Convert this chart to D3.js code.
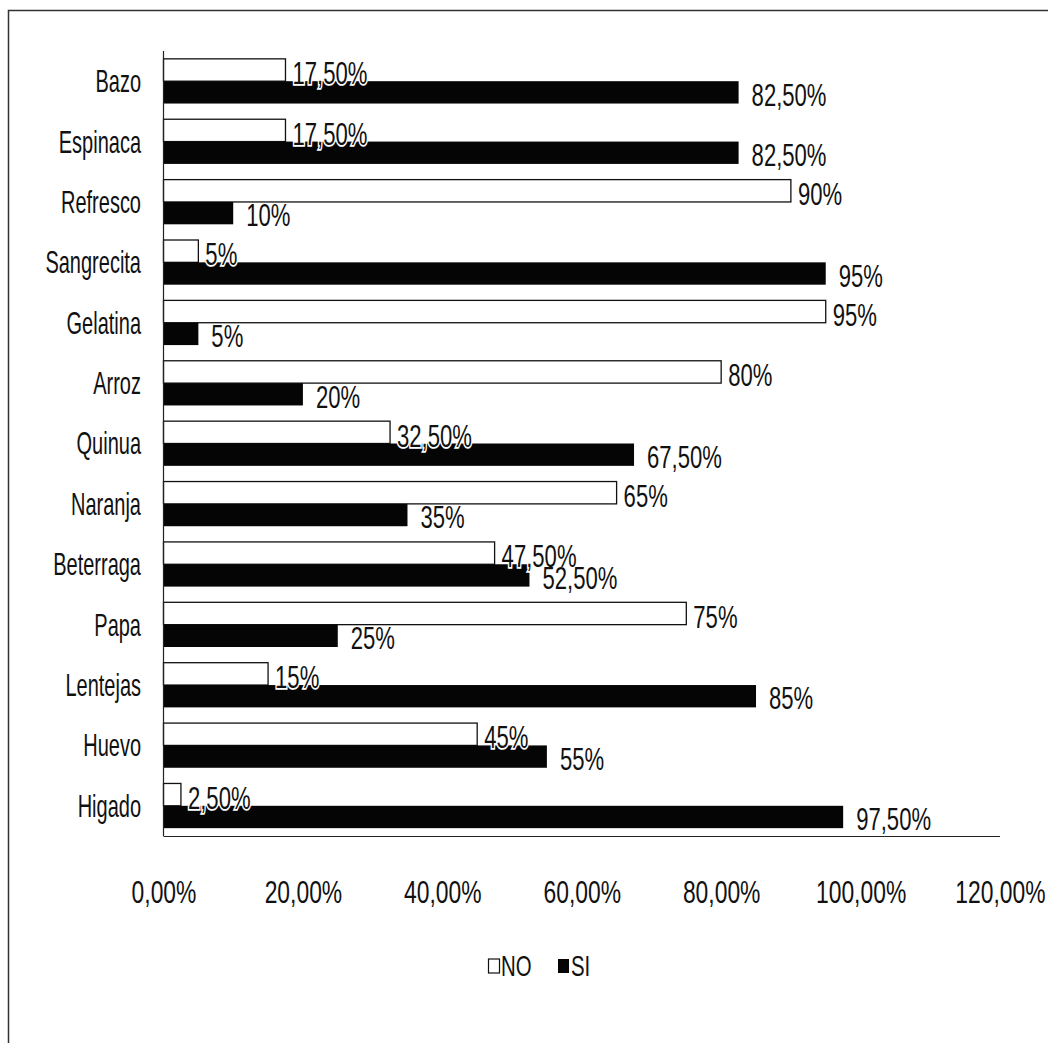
<!DOCTYPE html>
<html>
<head>
<meta charset="utf-8">
<script src="https://cdn.jsdelivr.net/npm/d3@7"></script>
<style>
  body { margin: 0; background: #fff; }
  text { font-family: "Liberation Sans", Arial, sans-serif; fill: #111; }
</style>
</head>
<body>
<svg id="chart" width="1060" height="1043"></svg>
<script>
// Foods asked about, top to bottom
const categories = ["Bazo", "Espinaca", "Refresco", "Sangrecita", "Gelatina", "Arroz",
  "Quinua", "Naranja", "Beterraga", "Papa", "Lentejas", "Huevo", "Higado"];
// Share of answers per food (%)
const noValues = [17.5, 17.5, 90, 5, 95, 80, 32.5, 65, 47.5, 75, 15, 45, 2.5];
const siValues = [82.5, 82.5, 10, 95, 5, 20, 67.5, 35, 52.5, 25, 85, 55, 97.5];
const seriesNames = ["NO", "SI"];
const xTicks = [0, 20, 40, 60, 80, 100, 120];

const svg = d3.select("#chart");

// value label: "90%" for whole numbers, "17,50%" otherwise
const pct = v => Number.isInteger(v) ? v + "%" : v.toFixed(2).replace(".", ",") + "%";
const tickFmt = v => v.toFixed(2).replace(".", ",") + "%";

const x = d3.scaleLinear().domain([0, 120]).range([163.5, 1000]);
const y = d3.scaleBand().domain(categories).range([51, 836])
  .paddingInner(0.26).paddingOuter(0.13);
const ySub = d3.scaleBand().domain(seriesNames).range([0, y.bandwidth()]);

const rows = categories.map((c, i) => ({ cat: c, NO: noValues[i], SI: siValues[i] }));

// outer frame (top and left edges)
svg.append("path")
  .attr("d", "M8.5,1043 V10.5 H1048")
  .attr("fill", "none").attr("stroke", "#333").attr("stroke-width", 1.5);

// tall, narrow lettering: text drawn inside a scaled group
function label(sel, tx, ty, str, size, anchor, sx, sy) {
  const g = sel.append("g").attr("transform", `translate(${tx},${ty}) scale(${sx},${sy})`);
  return g.append("text")
    .attr("font-size", size)
    .attr("text-anchor", anchor)
    .attr("dy", "0.36em")
    .text(str);
}

// bars
const groups = svg.append("g").selectAll("g.row").data(rows).join("g")
  .attr("class", "row")
  .attr("transform", d => `translate(0,${y(d.cat)})`);

groups.append("rect")
  .attr("x", x(0))
  .attr("y", ySub("NO"))
  .attr("width", d => x(d.NO) - x(0))
  .attr("height", ySub.bandwidth())
  .attr("fill", "#fff").attr("stroke", "#111").attr("stroke-width", 1.3);

groups.append("rect")
  .attr("x", x(0))
  .attr("y", ySub("SI"))
  .attr("width", d => x(d.SI) - x(0))
  .attr("height", ySub.bandwidth())
  .attr("fill", "#050505");

// value labels
const labelLayer = svg.append("g");
rows.forEach(d => {
  const yNo = y(d.cat) + ySub("NO") + ySub.bandwidth() / 2 + 3;
  const ySi = y(d.cat) + ySub("SI") + ySub.bandwidth() / 2 + 2;
  label(labelLayer, x(d.NO) + 7, yNo, pct(d.NO), 26, "start", 0.85, 1.2)
    .attr("stroke", "#fff").attr("stroke-width", 3).attr("paint-order", "stroke");
  label(labelLayer, x(d.SI) + 13, ySi, pct(d.SI), 26, "start", 0.85, 1.2);
});

// category axis
svg.append("line")
  .attr("x1", x(0)).attr("x2", x(0))
  .attr("y1", y.range()[0]).attr("y2", y.range()[1])
  .attr("stroke", "#222").attr("stroke-width", 1.2);

categories.forEach(c => {
  label(svg, 141, y(c) + y.bandwidth() / 2, c, 25, "end", 0.8, 1.22);
});

// value axis
const xAxis = svg.append("g")
  .attr("transform", `translate(0,${y.range()[1]})`)
  .call(d3.axisBottom(x).tickValues(xTicks).tickFormat(tickFmt).tickSize(0));
xAxis.select(".domain").attr("stroke", "#222").attr("stroke-width", 1.2)
  .attr("d", `M${x(0)},0.5H${x(120)}`);
xAxis.selectAll(".tick text")
  .attr("font-family", null)
  .attr("font-size", 26)
  .attr("fill", "#111")
  .attr("y", 0).attr("dy", 0)
  .attr("transform", "translate(0,67) scale(0.88,1.2)");

// legend
const legend = svg.append("g").attr("transform", "translate(488,966)");
legend.append("rect").attr("x", 0.5).attr("y", -7).attr("width", 11).attr("height", 14)
  .attr("fill", "#fff").attr("stroke", "#111").attr("stroke-width", 1.2);
label(legend, 13, 0, seriesNames[0], 24, "start", 0.85, 1.2);
legend.append("rect").attr("x", 70).attr("y", -7).attr("width", 11).attr("height", 14)
  .attr("fill", "#050505");
label(legend, 83, 0, seriesNames[1], 24, "start", 0.85, 1.2);
</script>
</body>
</html>
